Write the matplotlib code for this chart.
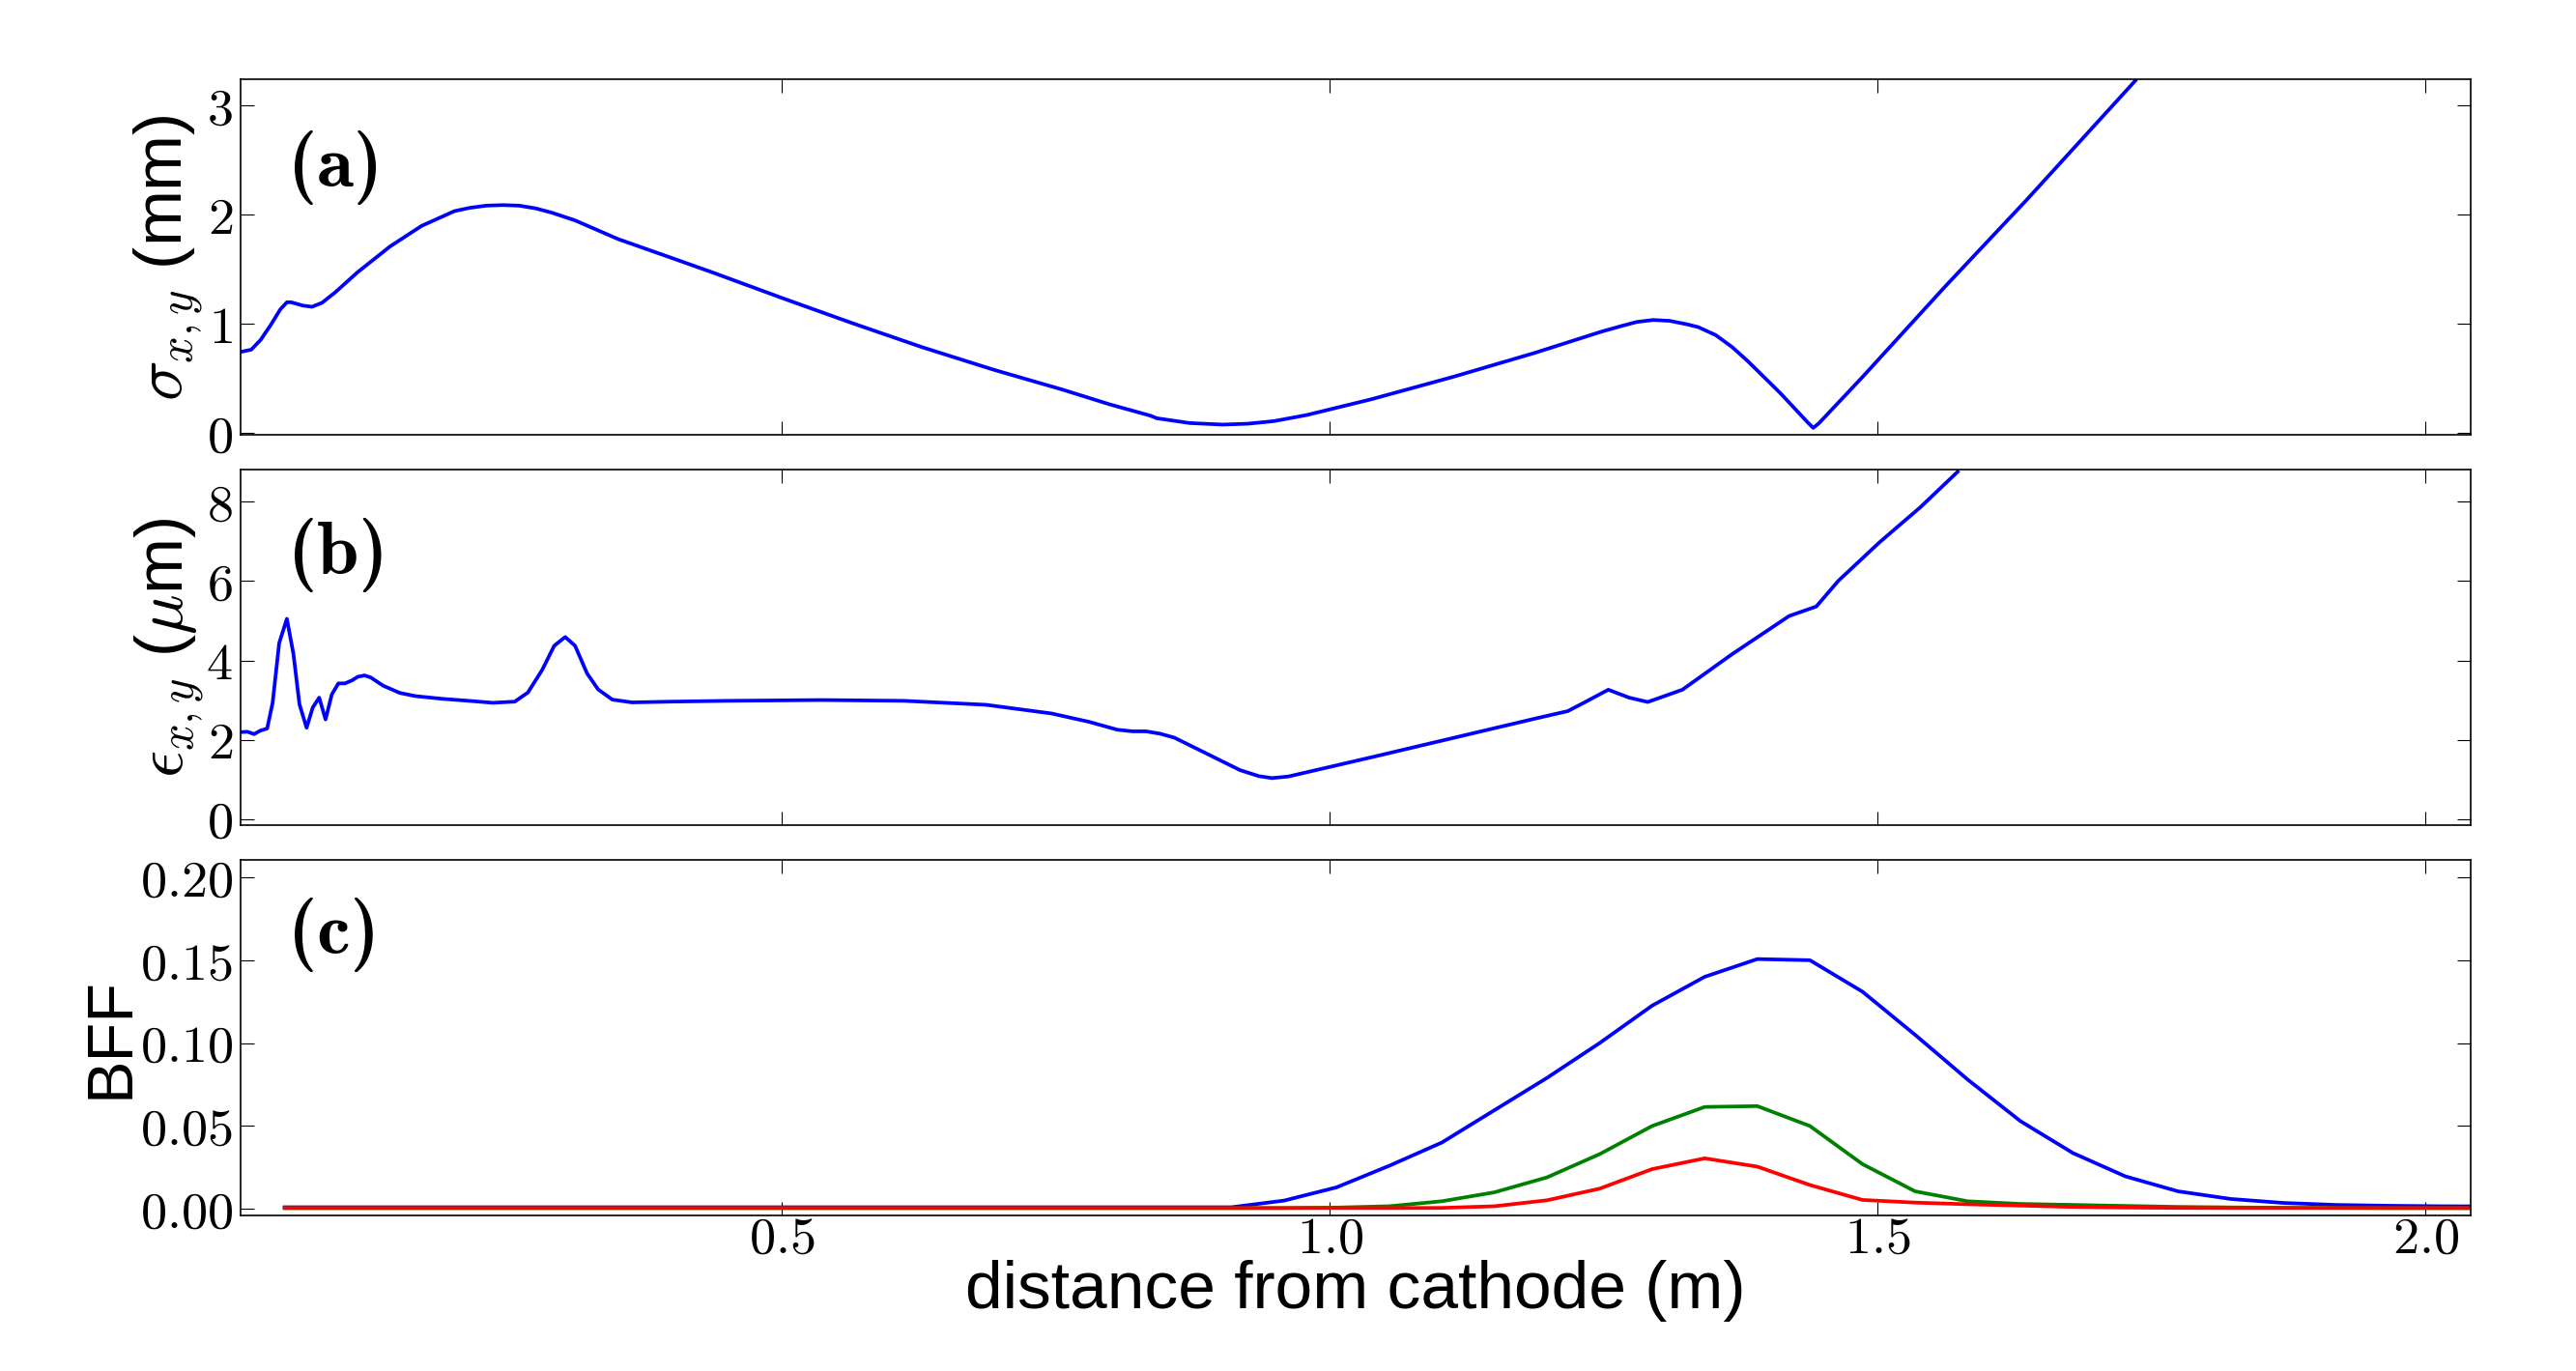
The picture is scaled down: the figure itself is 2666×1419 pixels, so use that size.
import os
import matplotlib
matplotlib.use('Agg')
import matplotlib.pyplot as plt
from matplotlib.ticker import FuncFormatter
from matplotlib.font_manager import FontProperties

plt.rcParams['font.family'] = ['Liberation Sans', 'DejaVu Sans']
plt.rcParams['mathtext.fontset'] = 'cm'

# (a) beam size along the line
z_sigma = [0.006, 0.0155, 0.024, 0.033, 0.042, 0.048, 0.052, 0.0625, 0.071, 0.080,
           0.092, 0.1125, 0.142, 0.171, 0.201, 0.215, 0.230, 0.245, 0.260, 0.275,
           0.290, 0.311, 0.3505, 0.393, 0.436, 0.500, 0.564, 0.628, 0.6925, 0.7566,
           0.799, 0.836, 0.842, 0.872, 0.902, 0.925, 0.949, 0.979, 1.021, 1.037,
           1.112, 1.187, 1.247, 1.265, 1.280, 1.295, 1.310, 1.325, 1.336, 1.352,
           1.367, 1.381, 1.411, 1.436, 1.441, 1.446, 1.486, 1.561, 1.636, 1.735]
sigma = [0.746, 0.766, 0.855, 0.988, 1.135, 1.20, 1.20, 1.17, 1.159, 1.195,
         1.29, 1.475, 1.71, 1.90, 2.035, 2.065, 2.085, 2.09, 2.085, 2.06,
         2.02, 1.95, 1.778, 1.628, 1.475, 1.239, 1.009, 0.788, 0.584, 0.398,
         0.265, 0.162, 0.138, 0.094, 0.080, 0.088, 0.112, 0.168, 0.271, 0.31,
         0.516, 0.737, 0.929, 0.98, 1.02, 1.038, 1.03, 1.00, 0.973, 0.90,
         0.79, 0.664, 0.368, 0.10, 0.05, 0.09, 0.516, 1.34, 2.14, 3.23]

# (b) emittance
z_emit = [0.006, 0.012, 0.018, 0.024, 0.030, 0.035, 0.041, 0.048, 0.054, 0.0595,
          0.066, 0.0716, 0.0775, 0.0833, 0.089, 0.095, 0.101, 0.107, 0.113, 0.119,
          0.1245, 0.136, 0.151, 0.165, 0.190, 0.214, 0.236, 0.256, 0.268, 0.281,
          0.292, 0.302, 0.311, 0.322, 0.332, 0.345, 0.363, 0.40, 0.45, 0.536,
          0.611, 0.686, 0.746, 0.78, 0.806, 0.82, 0.832, 0.845, 0.858, 0.888,
          0.918, 0.935, 0.947, 0.962, 1.037, 1.112, 1.187, 1.217, 1.2316, 1.254,
          1.273, 1.290, 1.3216, 1.3666, 1.419, 1.4438, 1.464, 1.5015, 1.539, 1.5728]
emit = [2.19, 2.20, 2.14, 2.23, 2.28, 2.93, 4.44, 5.05, 4.16, 2.89,
        2.30, 2.81, 3.06, 2.51, 3.14, 3.42, 3.42, 3.49, 3.59, 3.62,
        3.57, 3.36, 3.18, 3.10, 3.03, 2.98, 2.93, 2.96, 3.19, 3.76,
        4.37, 4.59, 4.37, 3.67, 3.27, 3.01, 2.94, 2.96, 2.98, 3.0,
        2.98, 2.88, 2.66, 2.45, 2.25, 2.21, 2.21, 2.15, 2.05, 1.64,
        1.23, 1.08, 1.03, 1.07, 1.55, 2.04, 2.53, 2.72, 2.93, 3.26,
        3.06, 2.95, 3.26, 4.15, 5.12, 5.36, 6.01, 6.98, 7.87, 8.76]

# (c) BFF, three series on the same sampling
z_bff = [0.046, 0.910, 0.958, 1.006, 1.054, 1.102, 1.150, 1.198, 1.246, 1.294,
         1.342, 1.390, 1.438, 1.486, 1.534, 1.582, 1.630, 1.678, 1.726, 1.774,
         1.822, 1.870, 1.918, 1.966, 2.014, 2.062]
bff_blue = [0.001, 0.001, 0.005, 0.013, 0.026, 0.040, 0.0595, 0.079, 0.100, 0.1226,
            0.140, 0.1507, 0.150, 0.131, 0.105, 0.078, 0.053, 0.0337, 0.0196, 0.0106,
            0.006, 0.0036, 0.0024, 0.0019, 0.0016, 0.0015]
bff_green = [0.0005, 0.0005, 0.0005, 0.0008, 0.0016, 0.0046, 0.010, 0.019, 0.033, 0.050,
             0.0615, 0.062, 0.050, 0.027, 0.0106, 0.0046, 0.003, 0.0024, 0.0018, 0.0012,
             0.0009, 0.0007, 0.0006, 0.0005, 0.0005, 0.0005]
bff_red = [0.0005, 0.0005, 0.0005, 0.0005, 0.0005, 0.0006, 0.0016, 0.0052, 0.0122, 0.0240,
           0.0305, 0.0255, 0.0144, 0.0054, 0.0038, 0.0028, 0.002, 0.0012, 0.0008, 0.0006,
           0.0005, 0.0005, 0.0005, 0.0005, 0.0005, 0.0005]

fig, axes = plt.subplots(3, 1, sharex=True, figsize=(26.66, 14.19), dpi=100)
fig.subplots_adjust(left=0.0935, right=0.9591, top=0.942, bottom=0.1134, hspace=0.098)
ax1, ax2, ax3 = axes

lw = 2.7
ax1.plot(z_sigma, sigma, color='b', lw=lw)
ax2.plot(z_emit, emit, color='b', lw=lw)
ax3.plot(z_bff, bff_blue, color='b', lw=lw)
ax3.plot(z_bff, bff_green, color='g', lw=lw)
ax3.plot(z_bff, bff_red, color='r', lw=lw)

ax1.set_ylim(-0.015, 3.24)
ax1.set_yticks([0, 1, 2, 3])
ax2.set_ylim(-0.16, 8.81)
ax2.set_yticks([0, 2, 4, 6, 8])
ax3.set_ylim(-0.004, 0.2104)
ax3.set_yticks([0.0, 0.05, 0.10, 0.15, 0.20])
ax3.set_xlim(0.006, 2.041)
ax3.set_xticks([0.5, 1.0, 1.5, 2.0])

ax1.yaxis.set_major_formatter(FuncFormatter(lambda v, p: r'$%d$' % round(v)))
ax2.yaxis.set_major_formatter(FuncFormatter(lambda v, p: r'$%d$' % round(v)))
ax3.yaxis.set_major_formatter(FuncFormatter(lambda v, p: r'$%.2f$' % v))
ax3.xaxis.set_major_formatter(FuncFormatter(lambda v, p: r'$%.1f$' % v))

for ax in axes:
    ax.tick_params(direction='in', top=True, right=True, length=10, width=0.8,
                   labelsize=39, pad=6)
    for s in ax.spines.values():
        s.set_linewidth(1.2)
ax3.tick_params(axis='x', pad=0)

ax1.set_ylabel(r'$\sigma_{x,y}$ (mm)', fontsize=50)
ax2.set_ylabel(r'$\epsilon_{x,y}$ ($\mu$m)', fontsize=50)
ax3.set_ylabel('BFF', fontsize=48)
ax3.set_xlabel('distance from cathode (m)', fontsize=50)

for ax, xpos in zip(axes, [-0.0262, -0.0258, -0.0505]):
    ax.yaxis.label.set_va('baseline')
    ax.yaxis.set_label_coords(xpos, 0.5)
ax3.xaxis.label.set_va('baseline')
ax3.xaxis.set_label_coords(0.5, -0.262)

bold_cm = FontProperties(fname=os.path.join(matplotlib.get_data_path(), 'fonts', 'ttf', 'cmb10.ttf'),
                         size=56)
panel_y = [0.753, 0.761, 0.79]
for ax, tag, y in zip(axes, ['(a)', '(b)', '(c)'], panel_y):
    ax.text(0.0212, y, tag, transform=ax.transAxes, fontproperties=bold_cm,
            ha='left', va='center')

fig.savefig('out.png', dpi=100)
